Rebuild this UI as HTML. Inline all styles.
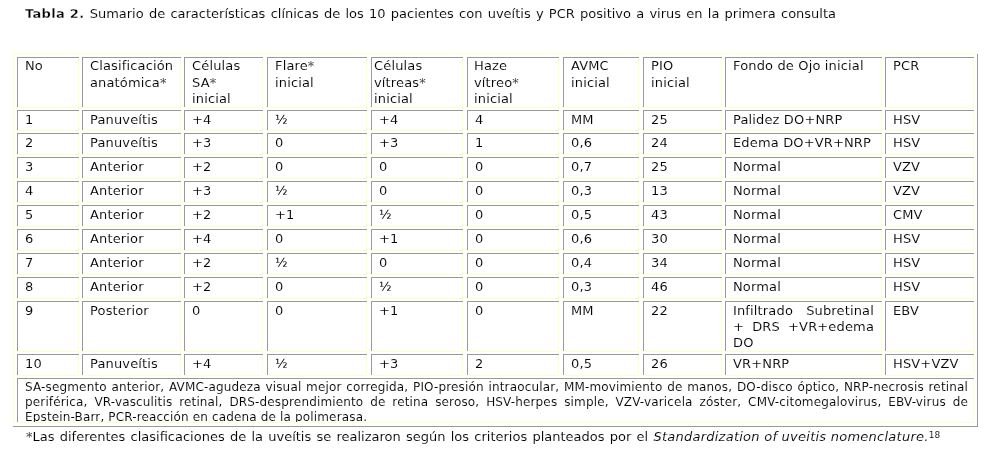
<!DOCTYPE html>
<html><head><meta charset="utf-8"><title>Tabla 2</title>
<style>
html,body{margin:0;padding:0;background:#fff;}
body{width:1004px;height:458px;position:relative;overflow:hidden;font-family:'DejaVu Sans', 'Liberation Sans', sans-serif;color:#000;}
.b{position:absolute;}
.t{position:absolute;white-space:nowrap;letter-spacing:0.15px;-webkit-text-stroke:0.1px #fff;}
b{-webkit-text-stroke:0.3px #fff;}
.j{white-space:normal;text-align:justify;text-align-last:justify;}
.clip{position:absolute;overflow:hidden;}
.layer{position:absolute;left:0;top:0;width:1004px;height:458px;will-change:transform;}
sup{font-size:9px;line-height:0;vertical-align:0;position:relative;top:-3px;letter-spacing:0;}
</style></head><body>
<div class="b" style="left:13px;top:53px;width:965px;height:374px;box-shadow:inset 0 1px #ffffcc,inset 0 -1px #999999,inset 1px 0 #ffffcc,inset -1px 0 #999999;"></div>
<div class="b" style="left:17px;top:57px;width:62px;height:51px;box-shadow:inset 0 1px #999999,inset 0 -1px #ffffcc,inset 1px 0 #999999,inset -1px 0 #ffffcc;"></div>
<div class="b" style="left:82px;top:57px;width:99px;height:51px;box-shadow:inset 0 1px #999999,inset 0 -1px #ffffcc,inset 1px 0 #999999,inset -1px 0 #ffffcc;"></div>
<div class="b" style="left:184px;top:57px;width:79px;height:51px;box-shadow:inset 0 1px #999999,inset 0 -1px #ffffcc,inset 1px 0 #999999,inset -1px 0 #ffffcc;"></div>
<div class="b" style="left:267px;top:57px;width:100px;height:51px;box-shadow:inset 0 1px #999999,inset 0 -1px #ffffcc,inset 1px 0 #999999,inset -1px 0 #ffffcc;"></div>
<div class="b" style="left:371px;top:57px;width:92px;height:51px;box-shadow:inset 0 1px #999999,inset 0 -1px #ffffcc,inset 1px 0 #999999,inset -1px 0 #ffffcc;"></div>
<div class="b" style="left:467px;top:57px;width:92px;height:51px;box-shadow:inset 0 1px #999999,inset 0 -1px #ffffcc,inset 1px 0 #999999,inset -1px 0 #ffffcc;"></div>
<div class="b" style="left:563px;top:57px;width:76px;height:51px;box-shadow:inset 0 1px #999999,inset 0 -1px #ffffcc,inset 1px 0 #999999,inset -1px 0 #ffffcc;"></div>
<div class="b" style="left:643px;top:57px;width:79px;height:51px;box-shadow:inset 0 1px #999999,inset 0 -1px #ffffcc,inset 1px 0 #999999,inset -1px 0 #ffffcc;"></div>
<div class="b" style="left:725px;top:57px;width:157px;height:51px;box-shadow:inset 0 1px #999999,inset 0 -1px #ffffcc,inset 1px 0 #999999,inset -1px 0 #ffffcc;"></div>
<div class="b" style="left:885px;top:57px;width:89px;height:51px;box-shadow:inset 0 1px #999999,inset 0 -1px #ffffcc,inset 1px 0 #999999,inset -1px 0 #ffffcc;"></div>
<div class="b" style="left:17px;top:110px;width:62px;height:21px;box-shadow:inset 0 1px #999999,inset 0 -1px #ffffcc,inset 1px 0 #999999,inset -1px 0 #ffffcc;"></div>
<div class="b" style="left:82px;top:110px;width:99px;height:21px;box-shadow:inset 0 1px #999999,inset 0 -1px #ffffcc,inset 1px 0 #999999,inset -1px 0 #ffffcc;"></div>
<div class="b" style="left:184px;top:110px;width:79px;height:21px;box-shadow:inset 0 1px #999999,inset 0 -1px #ffffcc,inset 1px 0 #999999,inset -1px 0 #ffffcc;"></div>
<div class="b" style="left:267px;top:110px;width:100px;height:21px;box-shadow:inset 0 1px #999999,inset 0 -1px #ffffcc,inset 1px 0 #999999,inset -1px 0 #ffffcc;"></div>
<div class="b" style="left:371px;top:110px;width:92px;height:21px;box-shadow:inset 0 1px #999999,inset 0 -1px #ffffcc,inset 1px 0 #999999,inset -1px 0 #ffffcc;"></div>
<div class="b" style="left:467px;top:110px;width:92px;height:21px;box-shadow:inset 0 1px #999999,inset 0 -1px #ffffcc,inset 1px 0 #999999,inset -1px 0 #ffffcc;"></div>
<div class="b" style="left:563px;top:110px;width:76px;height:21px;box-shadow:inset 0 1px #999999,inset 0 -1px #ffffcc,inset 1px 0 #999999,inset -1px 0 #ffffcc;"></div>
<div class="b" style="left:643px;top:110px;width:79px;height:21px;box-shadow:inset 0 1px #999999,inset 0 -1px #ffffcc,inset 1px 0 #999999,inset -1px 0 #ffffcc;"></div>
<div class="b" style="left:725px;top:110px;width:157px;height:21px;box-shadow:inset 0 1px #999999,inset 0 -1px #ffffcc,inset 1px 0 #999999,inset -1px 0 #ffffcc;"></div>
<div class="b" style="left:885px;top:110px;width:89px;height:21px;box-shadow:inset 0 1px #999999,inset 0 -1px #ffffcc,inset 1px 0 #999999,inset -1px 0 #ffffcc;"></div>
<div class="b" style="left:17px;top:133px;width:62px;height:22px;box-shadow:inset 0 1px #999999,inset 0 -1px #ffffcc,inset 1px 0 #999999,inset -1px 0 #ffffcc;"></div>
<div class="b" style="left:82px;top:133px;width:99px;height:22px;box-shadow:inset 0 1px #999999,inset 0 -1px #ffffcc,inset 1px 0 #999999,inset -1px 0 #ffffcc;"></div>
<div class="b" style="left:184px;top:133px;width:79px;height:22px;box-shadow:inset 0 1px #999999,inset 0 -1px #ffffcc,inset 1px 0 #999999,inset -1px 0 #ffffcc;"></div>
<div class="b" style="left:267px;top:133px;width:100px;height:22px;box-shadow:inset 0 1px #999999,inset 0 -1px #ffffcc,inset 1px 0 #999999,inset -1px 0 #ffffcc;"></div>
<div class="b" style="left:371px;top:133px;width:92px;height:22px;box-shadow:inset 0 1px #999999,inset 0 -1px #ffffcc,inset 1px 0 #999999,inset -1px 0 #ffffcc;"></div>
<div class="b" style="left:467px;top:133px;width:92px;height:22px;box-shadow:inset 0 1px #999999,inset 0 -1px #ffffcc,inset 1px 0 #999999,inset -1px 0 #ffffcc;"></div>
<div class="b" style="left:563px;top:133px;width:76px;height:22px;box-shadow:inset 0 1px #999999,inset 0 -1px #ffffcc,inset 1px 0 #999999,inset -1px 0 #ffffcc;"></div>
<div class="b" style="left:643px;top:133px;width:79px;height:22px;box-shadow:inset 0 1px #999999,inset 0 -1px #ffffcc,inset 1px 0 #999999,inset -1px 0 #ffffcc;"></div>
<div class="b" style="left:725px;top:133px;width:157px;height:22px;box-shadow:inset 0 1px #999999,inset 0 -1px #ffffcc,inset 1px 0 #999999,inset -1px 0 #ffffcc;"></div>
<div class="b" style="left:885px;top:133px;width:89px;height:22px;box-shadow:inset 0 1px #999999,inset 0 -1px #ffffcc,inset 1px 0 #999999,inset -1px 0 #ffffcc;"></div>
<div class="b" style="left:17px;top:157px;width:62px;height:22px;box-shadow:inset 0 1px #999999,inset 0 -1px #ffffcc,inset 1px 0 #999999,inset -1px 0 #ffffcc;"></div>
<div class="b" style="left:82px;top:157px;width:99px;height:22px;box-shadow:inset 0 1px #999999,inset 0 -1px #ffffcc,inset 1px 0 #999999,inset -1px 0 #ffffcc;"></div>
<div class="b" style="left:184px;top:157px;width:79px;height:22px;box-shadow:inset 0 1px #999999,inset 0 -1px #ffffcc,inset 1px 0 #999999,inset -1px 0 #ffffcc;"></div>
<div class="b" style="left:267px;top:157px;width:100px;height:22px;box-shadow:inset 0 1px #999999,inset 0 -1px #ffffcc,inset 1px 0 #999999,inset -1px 0 #ffffcc;"></div>
<div class="b" style="left:371px;top:157px;width:92px;height:22px;box-shadow:inset 0 1px #999999,inset 0 -1px #ffffcc,inset 1px 0 #999999,inset -1px 0 #ffffcc;"></div>
<div class="b" style="left:467px;top:157px;width:92px;height:22px;box-shadow:inset 0 1px #999999,inset 0 -1px #ffffcc,inset 1px 0 #999999,inset -1px 0 #ffffcc;"></div>
<div class="b" style="left:563px;top:157px;width:76px;height:22px;box-shadow:inset 0 1px #999999,inset 0 -1px #ffffcc,inset 1px 0 #999999,inset -1px 0 #ffffcc;"></div>
<div class="b" style="left:643px;top:157px;width:79px;height:22px;box-shadow:inset 0 1px #999999,inset 0 -1px #ffffcc,inset 1px 0 #999999,inset -1px 0 #ffffcc;"></div>
<div class="b" style="left:725px;top:157px;width:157px;height:22px;box-shadow:inset 0 1px #999999,inset 0 -1px #ffffcc,inset 1px 0 #999999,inset -1px 0 #ffffcc;"></div>
<div class="b" style="left:885px;top:157px;width:89px;height:22px;box-shadow:inset 0 1px #999999,inset 0 -1px #ffffcc,inset 1px 0 #999999,inset -1px 0 #ffffcc;"></div>
<div class="b" style="left:17px;top:181px;width:62px;height:22px;box-shadow:inset 0 1px #999999,inset 0 -1px #ffffcc,inset 1px 0 #999999,inset -1px 0 #ffffcc;"></div>
<div class="b" style="left:82px;top:181px;width:99px;height:22px;box-shadow:inset 0 1px #999999,inset 0 -1px #ffffcc,inset 1px 0 #999999,inset -1px 0 #ffffcc;"></div>
<div class="b" style="left:184px;top:181px;width:79px;height:22px;box-shadow:inset 0 1px #999999,inset 0 -1px #ffffcc,inset 1px 0 #999999,inset -1px 0 #ffffcc;"></div>
<div class="b" style="left:267px;top:181px;width:100px;height:22px;box-shadow:inset 0 1px #999999,inset 0 -1px #ffffcc,inset 1px 0 #999999,inset -1px 0 #ffffcc;"></div>
<div class="b" style="left:371px;top:181px;width:92px;height:22px;box-shadow:inset 0 1px #999999,inset 0 -1px #ffffcc,inset 1px 0 #999999,inset -1px 0 #ffffcc;"></div>
<div class="b" style="left:467px;top:181px;width:92px;height:22px;box-shadow:inset 0 1px #999999,inset 0 -1px #ffffcc,inset 1px 0 #999999,inset -1px 0 #ffffcc;"></div>
<div class="b" style="left:563px;top:181px;width:76px;height:22px;box-shadow:inset 0 1px #999999,inset 0 -1px #ffffcc,inset 1px 0 #999999,inset -1px 0 #ffffcc;"></div>
<div class="b" style="left:643px;top:181px;width:79px;height:22px;box-shadow:inset 0 1px #999999,inset 0 -1px #ffffcc,inset 1px 0 #999999,inset -1px 0 #ffffcc;"></div>
<div class="b" style="left:725px;top:181px;width:157px;height:22px;box-shadow:inset 0 1px #999999,inset 0 -1px #ffffcc,inset 1px 0 #999999,inset -1px 0 #ffffcc;"></div>
<div class="b" style="left:885px;top:181px;width:89px;height:22px;box-shadow:inset 0 1px #999999,inset 0 -1px #ffffcc,inset 1px 0 #999999,inset -1px 0 #ffffcc;"></div>
<div class="b" style="left:17px;top:205px;width:62px;height:22px;box-shadow:inset 0 1px #999999,inset 0 -1px #ffffcc,inset 1px 0 #999999,inset -1px 0 #ffffcc;"></div>
<div class="b" style="left:82px;top:205px;width:99px;height:22px;box-shadow:inset 0 1px #999999,inset 0 -1px #ffffcc,inset 1px 0 #999999,inset -1px 0 #ffffcc;"></div>
<div class="b" style="left:184px;top:205px;width:79px;height:22px;box-shadow:inset 0 1px #999999,inset 0 -1px #ffffcc,inset 1px 0 #999999,inset -1px 0 #ffffcc;"></div>
<div class="b" style="left:267px;top:205px;width:100px;height:22px;box-shadow:inset 0 1px #999999,inset 0 -1px #ffffcc,inset 1px 0 #999999,inset -1px 0 #ffffcc;"></div>
<div class="b" style="left:371px;top:205px;width:92px;height:22px;box-shadow:inset 0 1px #999999,inset 0 -1px #ffffcc,inset 1px 0 #999999,inset -1px 0 #ffffcc;"></div>
<div class="b" style="left:467px;top:205px;width:92px;height:22px;box-shadow:inset 0 1px #999999,inset 0 -1px #ffffcc,inset 1px 0 #999999,inset -1px 0 #ffffcc;"></div>
<div class="b" style="left:563px;top:205px;width:76px;height:22px;box-shadow:inset 0 1px #999999,inset 0 -1px #ffffcc,inset 1px 0 #999999,inset -1px 0 #ffffcc;"></div>
<div class="b" style="left:643px;top:205px;width:79px;height:22px;box-shadow:inset 0 1px #999999,inset 0 -1px #ffffcc,inset 1px 0 #999999,inset -1px 0 #ffffcc;"></div>
<div class="b" style="left:725px;top:205px;width:157px;height:22px;box-shadow:inset 0 1px #999999,inset 0 -1px #ffffcc,inset 1px 0 #999999,inset -1px 0 #ffffcc;"></div>
<div class="b" style="left:885px;top:205px;width:89px;height:22px;box-shadow:inset 0 1px #999999,inset 0 -1px #ffffcc,inset 1px 0 #999999,inset -1px 0 #ffffcc;"></div>
<div class="b" style="left:17px;top:229px;width:62px;height:22px;box-shadow:inset 0 1px #999999,inset 0 -1px #ffffcc,inset 1px 0 #999999,inset -1px 0 #ffffcc;"></div>
<div class="b" style="left:82px;top:229px;width:99px;height:22px;box-shadow:inset 0 1px #999999,inset 0 -1px #ffffcc,inset 1px 0 #999999,inset -1px 0 #ffffcc;"></div>
<div class="b" style="left:184px;top:229px;width:79px;height:22px;box-shadow:inset 0 1px #999999,inset 0 -1px #ffffcc,inset 1px 0 #999999,inset -1px 0 #ffffcc;"></div>
<div class="b" style="left:267px;top:229px;width:100px;height:22px;box-shadow:inset 0 1px #999999,inset 0 -1px #ffffcc,inset 1px 0 #999999,inset -1px 0 #ffffcc;"></div>
<div class="b" style="left:371px;top:229px;width:92px;height:22px;box-shadow:inset 0 1px #999999,inset 0 -1px #ffffcc,inset 1px 0 #999999,inset -1px 0 #ffffcc;"></div>
<div class="b" style="left:467px;top:229px;width:92px;height:22px;box-shadow:inset 0 1px #999999,inset 0 -1px #ffffcc,inset 1px 0 #999999,inset -1px 0 #ffffcc;"></div>
<div class="b" style="left:563px;top:229px;width:76px;height:22px;box-shadow:inset 0 1px #999999,inset 0 -1px #ffffcc,inset 1px 0 #999999,inset -1px 0 #ffffcc;"></div>
<div class="b" style="left:643px;top:229px;width:79px;height:22px;box-shadow:inset 0 1px #999999,inset 0 -1px #ffffcc,inset 1px 0 #999999,inset -1px 0 #ffffcc;"></div>
<div class="b" style="left:725px;top:229px;width:157px;height:22px;box-shadow:inset 0 1px #999999,inset 0 -1px #ffffcc,inset 1px 0 #999999,inset -1px 0 #ffffcc;"></div>
<div class="b" style="left:885px;top:229px;width:89px;height:22px;box-shadow:inset 0 1px #999999,inset 0 -1px #ffffcc,inset 1px 0 #999999,inset -1px 0 #ffffcc;"></div>
<div class="b" style="left:17px;top:253px;width:62px;height:22px;box-shadow:inset 0 1px #999999,inset 0 -1px #ffffcc,inset 1px 0 #999999,inset -1px 0 #ffffcc;"></div>
<div class="b" style="left:82px;top:253px;width:99px;height:22px;box-shadow:inset 0 1px #999999,inset 0 -1px #ffffcc,inset 1px 0 #999999,inset -1px 0 #ffffcc;"></div>
<div class="b" style="left:184px;top:253px;width:79px;height:22px;box-shadow:inset 0 1px #999999,inset 0 -1px #ffffcc,inset 1px 0 #999999,inset -1px 0 #ffffcc;"></div>
<div class="b" style="left:267px;top:253px;width:100px;height:22px;box-shadow:inset 0 1px #999999,inset 0 -1px #ffffcc,inset 1px 0 #999999,inset -1px 0 #ffffcc;"></div>
<div class="b" style="left:371px;top:253px;width:92px;height:22px;box-shadow:inset 0 1px #999999,inset 0 -1px #ffffcc,inset 1px 0 #999999,inset -1px 0 #ffffcc;"></div>
<div class="b" style="left:467px;top:253px;width:92px;height:22px;box-shadow:inset 0 1px #999999,inset 0 -1px #ffffcc,inset 1px 0 #999999,inset -1px 0 #ffffcc;"></div>
<div class="b" style="left:563px;top:253px;width:76px;height:22px;box-shadow:inset 0 1px #999999,inset 0 -1px #ffffcc,inset 1px 0 #999999,inset -1px 0 #ffffcc;"></div>
<div class="b" style="left:643px;top:253px;width:79px;height:22px;box-shadow:inset 0 1px #999999,inset 0 -1px #ffffcc,inset 1px 0 #999999,inset -1px 0 #ffffcc;"></div>
<div class="b" style="left:725px;top:253px;width:157px;height:22px;box-shadow:inset 0 1px #999999,inset 0 -1px #ffffcc,inset 1px 0 #999999,inset -1px 0 #ffffcc;"></div>
<div class="b" style="left:885px;top:253px;width:89px;height:22px;box-shadow:inset 0 1px #999999,inset 0 -1px #ffffcc,inset 1px 0 #999999,inset -1px 0 #ffffcc;"></div>
<div class="b" style="left:17px;top:277px;width:62px;height:22px;box-shadow:inset 0 1px #999999,inset 0 -1px #ffffcc,inset 1px 0 #999999,inset -1px 0 #ffffcc;"></div>
<div class="b" style="left:82px;top:277px;width:99px;height:22px;box-shadow:inset 0 1px #999999,inset 0 -1px #ffffcc,inset 1px 0 #999999,inset -1px 0 #ffffcc;"></div>
<div class="b" style="left:184px;top:277px;width:79px;height:22px;box-shadow:inset 0 1px #999999,inset 0 -1px #ffffcc,inset 1px 0 #999999,inset -1px 0 #ffffcc;"></div>
<div class="b" style="left:267px;top:277px;width:100px;height:22px;box-shadow:inset 0 1px #999999,inset 0 -1px #ffffcc,inset 1px 0 #999999,inset -1px 0 #ffffcc;"></div>
<div class="b" style="left:371px;top:277px;width:92px;height:22px;box-shadow:inset 0 1px #999999,inset 0 -1px #ffffcc,inset 1px 0 #999999,inset -1px 0 #ffffcc;"></div>
<div class="b" style="left:467px;top:277px;width:92px;height:22px;box-shadow:inset 0 1px #999999,inset 0 -1px #ffffcc,inset 1px 0 #999999,inset -1px 0 #ffffcc;"></div>
<div class="b" style="left:563px;top:277px;width:76px;height:22px;box-shadow:inset 0 1px #999999,inset 0 -1px #ffffcc,inset 1px 0 #999999,inset -1px 0 #ffffcc;"></div>
<div class="b" style="left:643px;top:277px;width:79px;height:22px;box-shadow:inset 0 1px #999999,inset 0 -1px #ffffcc,inset 1px 0 #999999,inset -1px 0 #ffffcc;"></div>
<div class="b" style="left:725px;top:277px;width:157px;height:22px;box-shadow:inset 0 1px #999999,inset 0 -1px #ffffcc,inset 1px 0 #999999,inset -1px 0 #ffffcc;"></div>
<div class="b" style="left:885px;top:277px;width:89px;height:22px;box-shadow:inset 0 1px #999999,inset 0 -1px #ffffcc,inset 1px 0 #999999,inset -1px 0 #ffffcc;"></div>
<div class="b" style="left:17px;top:301px;width:62px;height:51px;box-shadow:inset 0 1px #999999,inset 0 -1px #ffffcc,inset 1px 0 #999999,inset -1px 0 #ffffcc;"></div>
<div class="b" style="left:82px;top:301px;width:99px;height:51px;box-shadow:inset 0 1px #999999,inset 0 -1px #ffffcc,inset 1px 0 #999999,inset -1px 0 #ffffcc;"></div>
<div class="b" style="left:184px;top:301px;width:79px;height:51px;box-shadow:inset 0 1px #999999,inset 0 -1px #ffffcc,inset 1px 0 #999999,inset -1px 0 #ffffcc;"></div>
<div class="b" style="left:267px;top:301px;width:100px;height:51px;box-shadow:inset 0 1px #999999,inset 0 -1px #ffffcc,inset 1px 0 #999999,inset -1px 0 #ffffcc;"></div>
<div class="b" style="left:371px;top:301px;width:92px;height:51px;box-shadow:inset 0 1px #999999,inset 0 -1px #ffffcc,inset 1px 0 #999999,inset -1px 0 #ffffcc;"></div>
<div class="b" style="left:467px;top:301px;width:92px;height:51px;box-shadow:inset 0 1px #999999,inset 0 -1px #ffffcc,inset 1px 0 #999999,inset -1px 0 #ffffcc;"></div>
<div class="b" style="left:563px;top:301px;width:76px;height:51px;box-shadow:inset 0 1px #999999,inset 0 -1px #ffffcc,inset 1px 0 #999999,inset -1px 0 #ffffcc;"></div>
<div class="b" style="left:643px;top:301px;width:79px;height:51px;box-shadow:inset 0 1px #999999,inset 0 -1px #ffffcc,inset 1px 0 #999999,inset -1px 0 #ffffcc;"></div>
<div class="b" style="left:725px;top:301px;width:157px;height:51px;box-shadow:inset 0 1px #999999,inset 0 -1px #ffffcc,inset 1px 0 #999999,inset -1px 0 #ffffcc;"></div>
<div class="b" style="left:885px;top:301px;width:89px;height:51px;box-shadow:inset 0 1px #999999,inset 0 -1px #ffffcc,inset 1px 0 #999999,inset -1px 0 #ffffcc;"></div>
<div class="b" style="left:17px;top:354px;width:62px;height:22px;box-shadow:inset 0 1px #999999,inset 0 -1px #ffffcc,inset 1px 0 #999999,inset -1px 0 #ffffcc;"></div>
<div class="b" style="left:82px;top:354px;width:99px;height:22px;box-shadow:inset 0 1px #999999,inset 0 -1px #ffffcc,inset 1px 0 #999999,inset -1px 0 #ffffcc;"></div>
<div class="b" style="left:184px;top:354px;width:79px;height:22px;box-shadow:inset 0 1px #999999,inset 0 -1px #ffffcc,inset 1px 0 #999999,inset -1px 0 #ffffcc;"></div>
<div class="b" style="left:267px;top:354px;width:100px;height:22px;box-shadow:inset 0 1px #999999,inset 0 -1px #ffffcc,inset 1px 0 #999999,inset -1px 0 #ffffcc;"></div>
<div class="b" style="left:371px;top:354px;width:92px;height:22px;box-shadow:inset 0 1px #999999,inset 0 -1px #ffffcc,inset 1px 0 #999999,inset -1px 0 #ffffcc;"></div>
<div class="b" style="left:467px;top:354px;width:92px;height:22px;box-shadow:inset 0 1px #999999,inset 0 -1px #ffffcc,inset 1px 0 #999999,inset -1px 0 #ffffcc;"></div>
<div class="b" style="left:563px;top:354px;width:76px;height:22px;box-shadow:inset 0 1px #999999,inset 0 -1px #ffffcc,inset 1px 0 #999999,inset -1px 0 #ffffcc;"></div>
<div class="b" style="left:643px;top:354px;width:79px;height:22px;box-shadow:inset 0 1px #999999,inset 0 -1px #ffffcc,inset 1px 0 #999999,inset -1px 0 #ffffcc;"></div>
<div class="b" style="left:725px;top:354px;width:157px;height:22px;box-shadow:inset 0 1px #999999,inset 0 -1px #ffffcc,inset 1px 0 #999999,inset -1px 0 #ffffcc;"></div>
<div class="b" style="left:885px;top:354px;width:89px;height:22px;box-shadow:inset 0 1px #999999,inset 0 -1px #ffffcc,inset 1px 0 #999999,inset -1px 0 #ffffcc;"></div>
<div class="b" style="left:17px;top:378px;width:957px;height:45px;box-shadow:inset 0 1px #999999,inset 0 -1px #ffffcc,inset 1px 0 #999999,inset -1px 0 #ffffcc;"></div>
<div class="layer">
<div class="t" style="left:25px;top:6px;font-size:13px;line-height:16px;word-spacing:1.1px;letter-spacing:0"><b style="letter-spacing:0.3px;word-spacing:0">Tabla 2.</b> Sumario de características clínicas de los 10 pacientes con uveítis y PCR positivo a virus en la primera consulta</div>
<div class="t" style="left:25px;top:58px;font-size:13px;line-height:16px;">No</div>
<div class="t" style="left:90px;top:58px;font-size:13px;line-height:16px;">Clasificación</div>
<div class="t" style="left:90px;top:75px;font-size:13px;line-height:16px;">anatómica*</div>
<div class="t" style="left:192px;top:58px;font-size:13px;line-height:16px;">Células</div>
<div class="t" style="left:192px;top:75px;font-size:13px;line-height:16px;">SA*</div>
<div class="t" style="left:192px;top:91px;font-size:13px;line-height:16px;">inicial</div>
<div class="t" style="left:275px;top:58px;font-size:13px;line-height:16px;">Flare*</div>
<div class="t" style="left:275px;top:75px;font-size:13px;line-height:16px;">inicial</div>
<div class="t" style="left:374px;top:58px;font-size:13px;line-height:16px;">Células</div>
<div class="t" style="left:374px;top:75px;font-size:13px;line-height:16px;">vítreas*</div>
<div class="t" style="left:374px;top:91px;font-size:13px;line-height:16px;">inicial</div>
<div class="t" style="left:474px;top:58px;font-size:13px;line-height:16px;">Haze</div>
<div class="t" style="left:474px;top:75px;font-size:13px;line-height:16px;">vítreo*</div>
<div class="t" style="left:474px;top:91px;font-size:13px;line-height:16px;">inicial</div>
<div class="t" style="left:571px;top:58px;font-size:13px;line-height:16px;">AVMC</div>
<div class="t" style="left:571px;top:75px;font-size:13px;line-height:16px;">inicial</div>
<div class="t" style="left:651px;top:58px;font-size:13px;line-height:16px;">PIO</div>
<div class="t" style="left:651px;top:75px;font-size:13px;line-height:16px;">inicial</div>
<div class="t" style="left:733px;top:58px;font-size:13px;line-height:16px;">Fondo de Ojo inicial</div>
<div class="t" style="left:893px;top:58px;font-size:13px;line-height:16px;">PCR</div>
<div class="t" style="left:25px;top:112px;font-size:13px;line-height:16px;">1</div>
<div class="t" style="left:90px;top:112px;font-size:13px;line-height:16px;">Panuveítis</div>
<div class="t" style="left:192px;top:112px;font-size:13px;line-height:16px;">+4</div>
<div class="t" style="left:275px;top:112px;font-size:13px;line-height:16px;-webkit-text-stroke:0;">½</div>
<div class="t" style="left:379px;top:112px;font-size:13px;line-height:16px;">+4</div>
<div class="t" style="left:475px;top:112px;font-size:13px;line-height:16px;">4</div>
<div class="t" style="left:571px;top:112px;font-size:13px;line-height:16px;">MM</div>
<div class="t" style="left:651px;top:112px;font-size:13px;line-height:16px;">25</div>
<div class="t" style="left:733px;top:112px;font-size:13px;line-height:16px;">Palidez DO+NRP</div>
<div class="t" style="left:893px;top:112px;font-size:13px;line-height:16px;">HSV</div>
<div class="t" style="left:25px;top:135px;font-size:13px;line-height:16px;">2</div>
<div class="t" style="left:90px;top:135px;font-size:13px;line-height:16px;">Panuveítis</div>
<div class="t" style="left:192px;top:135px;font-size:13px;line-height:16px;">+3</div>
<div class="t" style="left:275px;top:135px;font-size:13px;line-height:16px;">0</div>
<div class="t" style="left:379px;top:135px;font-size:13px;line-height:16px;">+3</div>
<div class="t" style="left:475px;top:135px;font-size:13px;line-height:16px;">1</div>
<div class="t" style="left:571px;top:135px;font-size:13px;line-height:16px;">0,6</div>
<div class="t" style="left:651px;top:135px;font-size:13px;line-height:16px;">24</div>
<div class="t" style="left:733px;top:135px;font-size:13px;line-height:16px;">Edema DO+VR+NRP</div>
<div class="t" style="left:893px;top:135px;font-size:13px;line-height:16px;">HSV</div>
<div class="t" style="left:25px;top:159px;font-size:13px;line-height:16px;">3</div>
<div class="t" style="left:90px;top:159px;font-size:13px;line-height:16px;">Anterior</div>
<div class="t" style="left:192px;top:159px;font-size:13px;line-height:16px;">+2</div>
<div class="t" style="left:275px;top:159px;font-size:13px;line-height:16px;">0</div>
<div class="t" style="left:379px;top:159px;font-size:13px;line-height:16px;">0</div>
<div class="t" style="left:475px;top:159px;font-size:13px;line-height:16px;">0</div>
<div class="t" style="left:571px;top:159px;font-size:13px;line-height:16px;">0,7</div>
<div class="t" style="left:651px;top:159px;font-size:13px;line-height:16px;">25</div>
<div class="t" style="left:733px;top:159px;font-size:13px;line-height:16px;">Normal</div>
<div class="t" style="left:893px;top:159px;font-size:13px;line-height:16px;">VZV</div>
<div class="t" style="left:25px;top:183px;font-size:13px;line-height:16px;">4</div>
<div class="t" style="left:90px;top:183px;font-size:13px;line-height:16px;">Anterior</div>
<div class="t" style="left:192px;top:183px;font-size:13px;line-height:16px;">+3</div>
<div class="t" style="left:275px;top:183px;font-size:13px;line-height:16px;-webkit-text-stroke:0;">½</div>
<div class="t" style="left:379px;top:183px;font-size:13px;line-height:16px;">0</div>
<div class="t" style="left:475px;top:183px;font-size:13px;line-height:16px;">0</div>
<div class="t" style="left:571px;top:183px;font-size:13px;line-height:16px;">0,3</div>
<div class="t" style="left:651px;top:183px;font-size:13px;line-height:16px;">13</div>
<div class="t" style="left:733px;top:183px;font-size:13px;line-height:16px;">Normal</div>
<div class="t" style="left:893px;top:183px;font-size:13px;line-height:16px;">VZV</div>
<div class="t" style="left:25px;top:207px;font-size:13px;line-height:16px;">5</div>
<div class="t" style="left:90px;top:207px;font-size:13px;line-height:16px;">Anterior</div>
<div class="t" style="left:192px;top:207px;font-size:13px;line-height:16px;">+2</div>
<div class="t" style="left:275px;top:207px;font-size:13px;line-height:16px;">+1</div>
<div class="t" style="left:379px;top:207px;font-size:13px;line-height:16px;-webkit-text-stroke:0;">½</div>
<div class="t" style="left:475px;top:207px;font-size:13px;line-height:16px;">0</div>
<div class="t" style="left:571px;top:207px;font-size:13px;line-height:16px;">0,5</div>
<div class="t" style="left:651px;top:207px;font-size:13px;line-height:16px;">43</div>
<div class="t" style="left:733px;top:207px;font-size:13px;line-height:16px;">Normal</div>
<div class="t" style="left:893px;top:207px;font-size:13px;line-height:16px;">CMV</div>
<div class="t" style="left:25px;top:231px;font-size:13px;line-height:16px;">6</div>
<div class="t" style="left:90px;top:231px;font-size:13px;line-height:16px;">Anterior</div>
<div class="t" style="left:192px;top:231px;font-size:13px;line-height:16px;">+4</div>
<div class="t" style="left:275px;top:231px;font-size:13px;line-height:16px;">0</div>
<div class="t" style="left:379px;top:231px;font-size:13px;line-height:16px;">+1</div>
<div class="t" style="left:475px;top:231px;font-size:13px;line-height:16px;">0</div>
<div class="t" style="left:571px;top:231px;font-size:13px;line-height:16px;">0,6</div>
<div class="t" style="left:651px;top:231px;font-size:13px;line-height:16px;">30</div>
<div class="t" style="left:733px;top:231px;font-size:13px;line-height:16px;">Normal</div>
<div class="t" style="left:893px;top:231px;font-size:13px;line-height:16px;">HSV</div>
<div class="t" style="left:25px;top:255px;font-size:13px;line-height:16px;">7</div>
<div class="t" style="left:90px;top:255px;font-size:13px;line-height:16px;">Anterior</div>
<div class="t" style="left:192px;top:255px;font-size:13px;line-height:16px;">+2</div>
<div class="t" style="left:275px;top:255px;font-size:13px;line-height:16px;-webkit-text-stroke:0;">½</div>
<div class="t" style="left:379px;top:255px;font-size:13px;line-height:16px;">0</div>
<div class="t" style="left:475px;top:255px;font-size:13px;line-height:16px;">0</div>
<div class="t" style="left:571px;top:255px;font-size:13px;line-height:16px;">0,4</div>
<div class="t" style="left:651px;top:255px;font-size:13px;line-height:16px;">34</div>
<div class="t" style="left:733px;top:255px;font-size:13px;line-height:16px;">Normal</div>
<div class="t" style="left:893px;top:255px;font-size:13px;line-height:16px;">HSV</div>
<div class="t" style="left:25px;top:279px;font-size:13px;line-height:16px;">8</div>
<div class="t" style="left:90px;top:279px;font-size:13px;line-height:16px;">Anterior</div>
<div class="t" style="left:192px;top:279px;font-size:13px;line-height:16px;">+2</div>
<div class="t" style="left:275px;top:279px;font-size:13px;line-height:16px;">0</div>
<div class="t" style="left:379px;top:279px;font-size:13px;line-height:16px;-webkit-text-stroke:0;">½</div>
<div class="t" style="left:475px;top:279px;font-size:13px;line-height:16px;">0</div>
<div class="t" style="left:571px;top:279px;font-size:13px;line-height:16px;">0,3</div>
<div class="t" style="left:651px;top:279px;font-size:13px;line-height:16px;">46</div>
<div class="t" style="left:733px;top:279px;font-size:13px;line-height:16px;">Normal</div>
<div class="t" style="left:893px;top:279px;font-size:13px;line-height:16px;">HSV</div>
<div class="t" style="left:25px;top:303px;font-size:13px;line-height:16px;">9</div>
<div class="t" style="left:90px;top:303px;font-size:13px;line-height:16px;">Posterior</div>
<div class="t" style="left:192px;top:303px;font-size:13px;line-height:16px;">0</div>
<div class="t" style="left:275px;top:303px;font-size:13px;line-height:16px;">0</div>
<div class="t" style="left:379px;top:303px;font-size:13px;line-height:16px;">+1</div>
<div class="t" style="left:475px;top:303px;font-size:13px;line-height:16px;">0</div>
<div class="t" style="left:571px;top:303px;font-size:13px;line-height:16px;">MM</div>
<div class="t" style="left:651px;top:303px;font-size:13px;line-height:16px;">22</div>
<div class="t" style="left:893px;top:303px;font-size:13px;line-height:16px;">EBV</div>
<div class="t" style="left:25px;top:356px;font-size:13px;line-height:16px;">10</div>
<div class="t" style="left:90px;top:356px;font-size:13px;line-height:16px;">Panuveítis</div>
<div class="t" style="left:192px;top:356px;font-size:13px;line-height:16px;">+4</div>
<div class="t" style="left:275px;top:356px;font-size:13px;line-height:16px;-webkit-text-stroke:0;">½</div>
<div class="t" style="left:379px;top:356px;font-size:13px;line-height:16px;">+3</div>
<div class="t" style="left:475px;top:356px;font-size:13px;line-height:16px;">2</div>
<div class="t" style="left:571px;top:356px;font-size:13px;line-height:16px;">0,5</div>
<div class="t" style="left:651px;top:356px;font-size:13px;line-height:16px;">26</div>
<div class="t" style="left:733px;top:356px;font-size:13px;line-height:16px;">VR+NRP</div>
<div class="t" style="left:893px;top:356px;font-size:13px;line-height:16px;">HSV+VZV</div>
<div class="t j" style="left:733px;top:303px;width:141px;font-size:13px;line-height:16px">Infiltrado Subretinal</div>
<div class="t j" style="left:733px;top:319px;width:141px;font-size:13px;line-height:16px">+ DRS +VR+edema</div>
<div class="t" style="left:733px;top:335px;font-size:13px;line-height:16px;">DO</div>
<div class="clip" style="left:18px;top:379px;width:955px;height:43px">
<div class="t j" style="left:7px;top:1px;width:943px;font-size:12px;line-height:15px">SA-segmento anterior, AVMC-agudeza visual mejor corregida, PIO-presión intraocular, MM-movimiento de manos, DO-disco óptico, NRP-necrosis retinal</div>
<div class="t j" style="left:7px;top:16px;width:943px;font-size:12px;line-height:15px">periférica, VR-vasculitis retinal, DRS-desprendimiento de retina seroso, HSV-herpes simple, VZV-varicela zóster, CMV-citomegalovirus, EBV-virus de</div>
<div class="t" style="left:7px;top:31px;width:943px;font-size:12px;line-height:15px">Epstein-Barr, PCR-reacción en cadena de la polimerasa.</div>
</div>
<div class="t" style="left:26px;top:429px;font-size:13px;line-height:16px;word-spacing:1.1px;letter-spacing:0">*Las diferentes clasificaciones de la uveítis se realizaron según los criterios planteados por el <i style="letter-spacing:0.25px;word-spacing:0">Standardization of uveitis nomenclature.</i><sup>18</sup></div>
</div>
</body></html>
